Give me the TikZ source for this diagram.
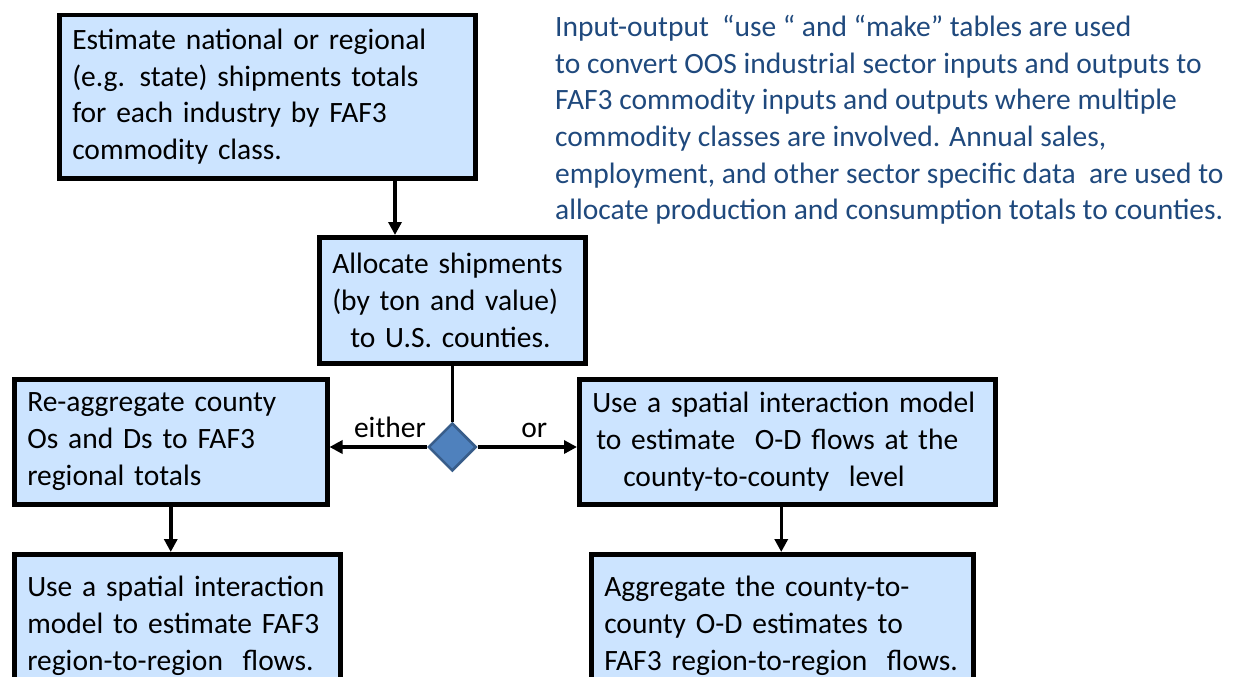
\documentclass[tikz,border=0pt]{standalone}
\usepackage{fontspec}
\setmainfont{Carlito}
\usetikzlibrary{arrows.meta,positioning,shapes.geometric}
\definecolor{BoxBlue}{RGB}{204,228,255}
\definecolor{NoteBlue}{RGB}{31,73,125}
\definecolor{GateBlue}{RGB}{79,129,189}
\definecolor{GateEdge}{RGB}{56,93,138}
\tikzset{
  stepbox/.style={draw=black,line width=4.5pt,fill=BoxBlue,rectangle,anchor=north west,
    align=left,inner xsep=13pt,inner ysep=0pt,font=\fontsize{29.5}{36.7}\selectfont},
  flow/.style={line width=3.5pt,-{Triangle[length=13pt,width=13pt]}},
  tag/.style={font=\fontsize{29.5}{36.7}\selectfont,inner sep=0pt}
}
\begin{document}
\begin{tikzpicture}[x=1pt,y=-1pt]
  \useasboundingbox (0,0) rectangle (1245,677);
  \clip (0,0) rectangle (1245,677);
  % boxes
  \node[stepbox,text width=390pt,minimum height=163pt] (estimate) at (57,13)
    {Estimate national or regional\\(e.g. state) shipments totals\\for each industry by FAF3\\commodity class.};
  \node[stepbox,text width=240pt,minimum height=126pt] (allocate) at (317,235)
    {Allocate shipments\\(by ton and value)\\\hspace*{18pt}to U.S. counties.};
  \node[stepbox,text width=287pt,minimum height=125pt] (regroup) at (12,377)
    {Re-aggregate county\\Os and Ds to FAF3\\regional totals};
  \node[stepbox,text width=390pt,minimum height=125pt] (spatial) at (577,377)
    {Use a spatial interaction model\\\hspace*{4pt}to estimate\ \ O-D flows at the\\\hspace*{31pt}county-to-county\ \ level};
  \node[stepbox,text width=300pt,minimum height=143pt] (regionflow) at (12,552)
    {Use a spatial interaction\\model to estimate FAF3\\region-to-region\ \ flows.};
  \node[stepbox,text width=356pt,minimum height=143pt] (countyflow) at (589,552)
    {Aggregate the county-to-\\county O-D estimates to\\FAF3 region-to-region\ \ flows.};
  \node[diamond,draw=GateEdge,line width=2.5pt,fill=GateBlue,minimum width=48pt,
    minimum height=48pt,inner sep=0pt] (gate) at (allocate.south |- 0,447) {};
  % side note
  \node[anchor=north west,align=left,text=NoteBlue,tag] (note) at (555,15)
    {Input-output\ \ “use “ and “make” tables are used\\to convert OOS industrial sector inputs and outputs to\\FAF3 commodity inputs and outputs where multiple\\commodity classes are involved. Annual sales,\\employment, and other sector specific data\ \ are used to\\allocate production and consumption totals to counties.};
  % connectors
  \coordinate (drop) at (395,0);
  \draw[flow] (estimate.south -| drop) -- (allocate.north -| drop);
  \draw[line width=3.5pt] (allocate.south) -- (gate.north);
  \draw[flow] (gate.west) -- (gate.west -| regroup.east)
    node[tag,pos=0.38,above=8pt] (either) {either};
  \draw[flow] (gate.east) -- (gate.east -| spatial.west)
    node[tag,pos=0.57,above=8pt] (orlabel) {or};
  \draw[flow] (regroup.south) -- (regroup.south |- regionflow.north);
  \draw[flow] ([xshift=-6pt]spatial.south) -- ([xshift=-6pt]spatial.south |- countyflow.north);
\end{tikzpicture}
\end{document}
